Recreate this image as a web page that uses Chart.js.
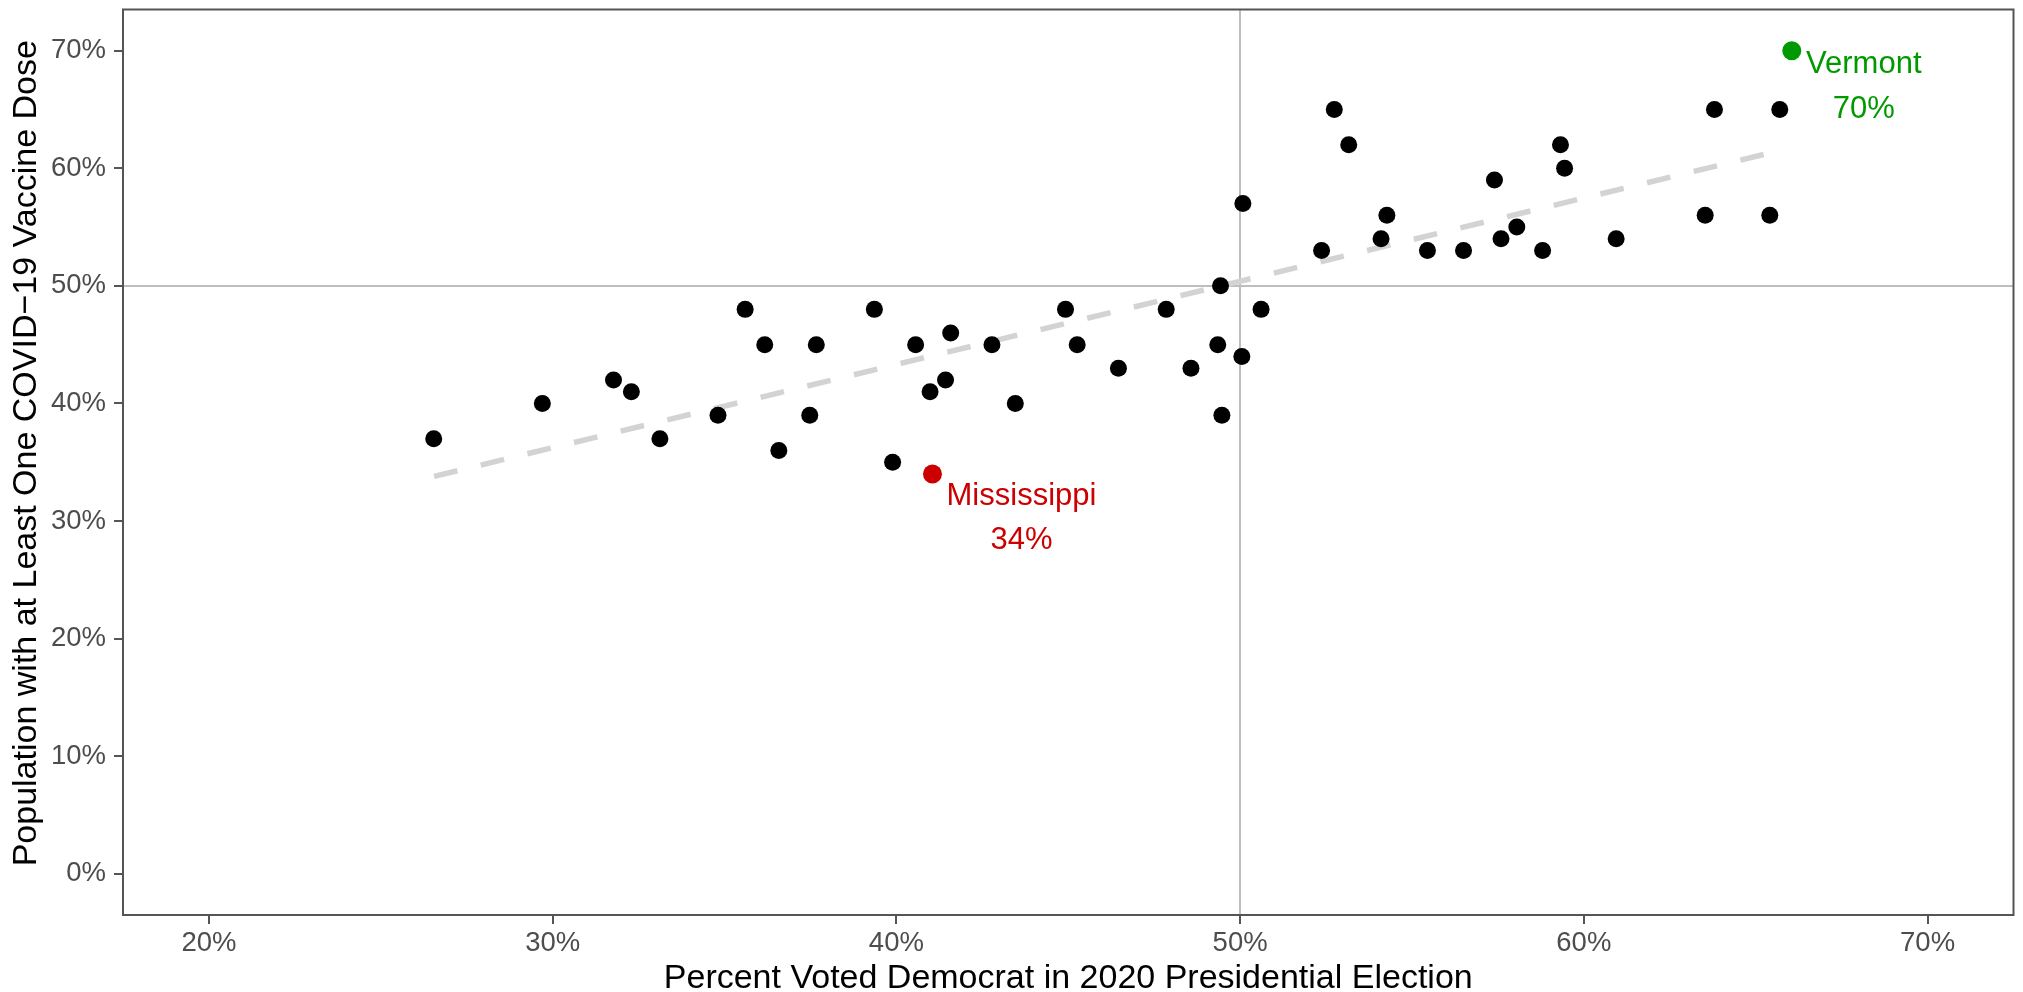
<!DOCTYPE html>
<html>
<head>
<meta charset="utf-8">
<script src="https://cdn.jsdelivr.net/npm/chart.js@4/dist/chart.umd.min.js"></script>
<style>
  html, body { margin: 0; padding: 0; background: #ffffff; }
  #wrap { position: relative; width: 2023px; height: 992px; }
</style>
</head>
<body>
<div id="wrap"><canvas id="c"></canvas></div>
<script>
// ---- data ----
const demShare = [26.54, 29.70, 31.77, 32.29, 33.12, 34.81, 35.60, 36.17, 36.58, 37.48,
                  37.67, 39.36, 39.89, 40.56, 40.98, 41.43, 41.58, 42.78, 43.46, 44.92,
                  45.26, 46.46, 47.85, 48.57, 49.35, 49.43, 49.47, 50.05, 50.08, 50.61,
                  52.37, 52.74, 53.16, 54.10, 54.27, 55.45, 56.50, 57.40, 57.59, 58.05,
                  58.80, 59.32, 59.44, 60.94, 63.53, 63.80, 65.41, 65.70];
const vaccinated = [37, 40, 42, 41, 37, 39, 48, 45, 36, 39,
                    45, 48, 35, 45, 41, 42, 46, 45, 40, 48,
                    45, 43, 48, 43, 45, 50, 39, 44, 57, 48,
                    53, 65, 62, 54, 56, 53, 53, 59, 54, 55,
                    53, 62, 60, 54, 56, 65, 56, 65];

const highlightNames = ["Mississippi", "Vermont"];
const highlightX = [41.05, 66.05];
const highlightY = [34, 70];
const highlightColors = ["#CC0000", "#009A00"];

const trendX = [26.55, 65.70];
const trendY = [33.8, 61.5];

const xTicks = [20, 30, 40, 50, 60, 70];
const yTicks = [0, 10, 20, 30, 40, 50, 60, 70];

const xTitle = "Percent Voted Democrat in 2020 Presidential Election";
const yTitle = "Population with at Least One COVID\u221219 Vaccine Dose";

// ---- build ----
const FONT = "'Liberation Sans', Arial, Helvetica, sans-serif";
const pts = demShare.map((x, i) => ({ x: x, y: vaccinated[i] }));
const trend = trendX.map((x, i) => ({ x: x, y: trendY[i] }));
const hlData = highlightX.map((x, i) => ({ x: x, y: highlightY[i] }));

const labelOffsets = [ { dx: 89, d1: 31, d2: 75 }, { dx: 72, d1: 22, d2: 67 } ];

const framePlugin = {
  id: 'frame',
  afterDatasetsDraw(chart) {
    const { ctx, chartArea: a, scales } = chart;
    ctx.save();
    ctx.strokeStyle = '#555555';
    ctx.lineWidth = 2;
    ctx.strokeRect(a.left, a.top, a.right - a.left, a.bottom - a.top);
    ctx.font = "31px " + FONT;
    ctx.textAlign = 'center';
    ctx.textBaseline = 'alphabetic';
    highlightNames.forEach((name, i) => {
      const px = scales.x.getPixelForValue(highlightX[i]);
      const py = scales.y.getPixelForValue(highlightY[i]);
      const o = labelOffsets[i];
      ctx.fillStyle = highlightColors[i];
      ctx.fillText(name, px + o.dx, py + o.d1);
      ctx.fillText(highlightY[i] + '%', px + o.dx, py + o.d2);
    });
    // y-axis title
    ctx.translate(27, (a.top + a.bottom) / 2 - 9);
    ctx.rotate(-Math.PI / 2);
    ctx.font = "34px " + FONT;
    ctx.fillStyle = '#000000';
    ctx.textBaseline = 'middle';
    ctx.fillText(yTitle, 0, 0);
    ctx.restore();
  }
};

const gridCfg = {
  color: c => (c.tick && c.tick.value === 50) ? '#BEBEBE' : 'rgba(0,0,0,0)',
  lineWidth: 2,
  drawTicks: true,
  tickColor: '#555555',
  tickLength: 9,
  tickWidth: 2
};

new Chart(document.getElementById('c'), {
  type: 'scatter',
  data: {
    datasets: [
      {
        label: 'highlight',
        data: hlData,
        pointRadius: 9.5,
        pointHoverRadius: 9.5,
        pointBackgroundColor: highlightColors,
        pointBorderWidth: 0,
        order: 0
      },
      {
        label: 'states',
        data: pts,
        pointRadius: 8.5,
        pointHoverRadius: 8.5,
        pointBackgroundColor: '#000000',
        pointBorderWidth: 0,
        order: 1
      },
      {
        label: 'trend',
        data: trend,
        showLine: true,
        borderColor: '#D3D3D3',
        borderWidth: 5.5,
        borderDash: [24, 24],
        borderCapStyle: 'butt',
        pointRadius: 0,
        pointHoverRadius: 0,
        fill: false,
        order: 2
      }
    ]
  },
  options: {
    responsive: true,
    maintainAspectRatio: false,
    animation: false,
    events: [],
    layout: { padding: { top: 5, right: 4, left: 0, bottom: 0 } },
    plugins: { legend: { display: false }, tooltip: { enabled: false } },
    scales: {
      x: {
        type: 'linear',
        min: 17.5,
        max: 72.5,
        afterBuildTicks: s => { s.ticks = xTicks.map(v => ({ value: v })); },
        afterFit: s => { s.height = 77; s.paddingLeft = 0; s.paddingRight = 0; },
        ticks: {
          callback: v => v + '%',
          color: '#4D4D4D',
          font: { family: FONT, size: 27.5 },
          padding: 3,
          maxRotation: 0,
          autoSkip: false
        },
        grid: gridCfg,
        border: { display: false },
        title: {
          display: true,
          text: xTitle,
          color: '#000000',
          font: { family: FONT, size: 34, lineHeight: 0.8 },
          padding: { top: 0, bottom: 0 }
        }
      },
      y: {
        type: 'linear',
        min: -3.5,
        max: 73.5,
        afterBuildTicks: s => { s.ticks = yTicks.map(v => ({ value: v })); },
        afterFit: s => { s.width = 123; s.paddingTop = 0; s.paddingBottom = 0; },
        ticks: {
          callback: v => v + '%',
          color: '#4D4D4D',
          font: { family: FONT, size: 27.5 },
          padding: 8,
          autoSkip: false
        },
        grid: gridCfg,
        border: { display: false },
        title: { display: false, text: yTitle }
      }
    }
  },
  plugins: [framePlugin]
});
</script>
</body>
</html>
